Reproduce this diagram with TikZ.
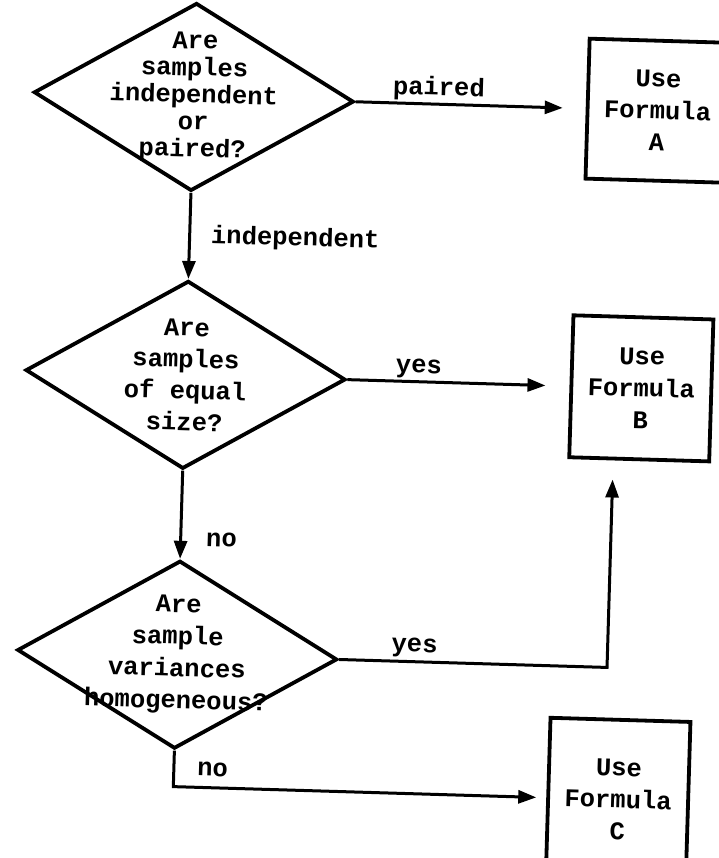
\documentclass[tikz,border=0pt]{standalone}
\usepackage{fontspec}
\newfontfamily\schemafont{Liberation Mono}
\usetikzlibrary{shapes.geometric, arrows.meta, positioning}
\newcommand{\testo}[1]{\schemafont\bfseries\fontsize{25.5}{#1}\selectfont}
\tikzset{
    domanda/.style = {diamond, draw, line width = 3.8pt, aspect = 1.7, inner sep = -20pt, minimum width = 320pt, minimum height = 188pt, align = center},
    formula/.style = {rectangle, draw, line width = 3.8pt, minimum width = 140pt, align = center},
    freccia/.style = {line width = 3pt, -{Triangle[length = 18pt, width = 13pt]}},
    etichetta/.style = {inner sep = 2pt}
}

\begin{document}
\begin{tikzpicture}[x = 1pt, y = -1pt, font = \testo{32}]
    % Area del disegno
    \useasboundingbox (0,0) rectangle (718,858);
    % Il foglio e' leggermente storto
    \begin{scope}[rotate around = {-1.7:(359,429)}, transform shape]
        % Domande
        \node[domanda, font = \testo{27}] (indip) at (184,102) {Are\\samples\\independent\\or\\paired?};
        \node[domanda, font = \testo{31.5}] (uguali) at (184,380) {Are\\samples\\of equal\\size?};
        \node[domanda] (omog) at (184,660) {Are\\sample\\variances\\homogeneous?};
        % Formule
        \node[formula, minimum height = 140pt] (formA) at (648,102) {Use\\Formula\\A};
        \node[formula, minimum height = 142pt] (formB) at (640,380) {Use\\Formula\\B};
        \node[formula, minimum height = 160pt] (formC) at (629,792) {Use\\Formula\\C};
        % Punti di passaggio
        \coordinate (gomito) at (614,660);
        \coordinate (sottoB) at (614,472);
        \coordinate (angolo) at (184,792);
        % Frecce
        \draw[freccia, shorten > = 23pt] (indip.east) -- (formA.west) node[etichetta, pos = 0.36, above] {paired};
        \draw[freccia] (indip.south) -- (uguali.north) node[etichetta, midway, right = 18pt] {independent};
        \draw[freccia, shorten > = 24pt] (uguali.east) -- (formB.west) node[etichetta, pos = 0.32, above] {yes};
        \draw[freccia] (uguali.south) -- (omog.north) node[etichetta, pos = 0.77, right = 22pt] {no};
        \draw[freccia] (omog.east) -- node[etichetta, pos = 0.28, above = 1pt] {yes} (gomito) -- (sottoB);
        \draw[freccia, shorten > = 10pt] (omog.south) -- (angolo) -- node[etichetta, pos = 0, above right = 8pt and 20pt] {no} (formC.west);
    \end{scope}
\end{tikzpicture}
\end{document}
